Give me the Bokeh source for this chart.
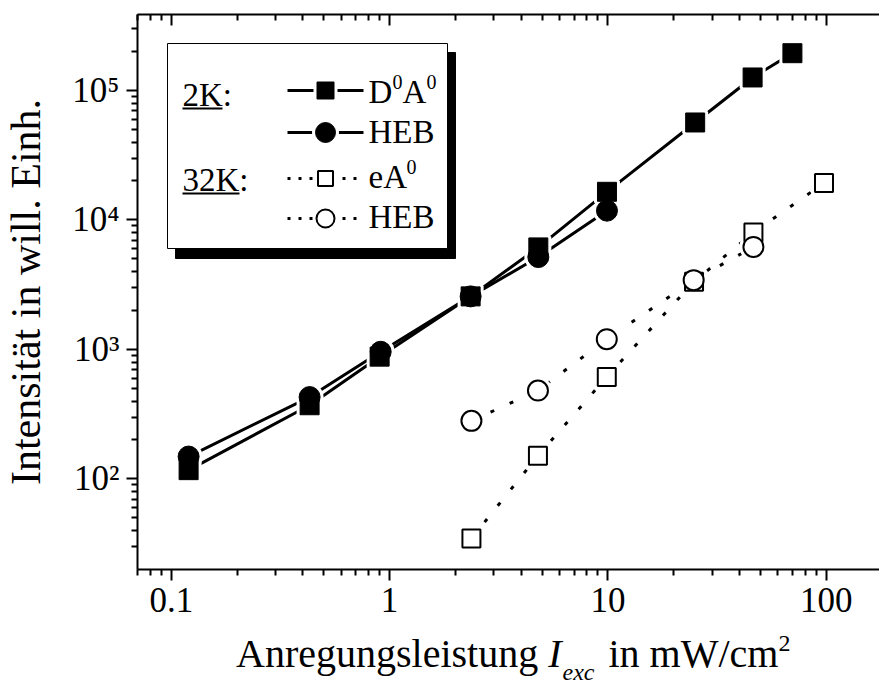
import math
from bokeh.plotting import figure
from bokeh.models import LogAxis, FixedTicker, Range1d, Div
from bokeh.layouts import column
from bokeh.core.properties import value
from bokeh.embed import file_html
from bokeh.resources import INLINE

# ---------------- data ----------------
x_2k_d0a0 = [0.12, 0.43, 0.90, 2.35, 4.8, 9.9, 25.1, 46.0, 70.0]
y_2k_d0a0 = [117, 371, 880, 2570, 6140, 16500, 56600, 126000, 194000]
x_2k_heb = [0.12, 0.43, 0.91, 2.35, 4.8, 9.9]
y_2k_heb = [149, 429, 960, 2570, 5170, 11800]
x_32k_ea0 = [2.37, 4.78, 9.88, 24.8, 46.4, 97.7]
y_32k_ea0 = [34.7, 151, 614, 3340, 8000, 19300]
x_32k_heb = [2.37, 4.78, 9.88, 24.7, 46.4]
y_32k_heb = [281, 482, 1200, 3430, 6190]

x_ticks = [0.1, 1, 10, 100]
x_tick_labels = ["0.1", "1", "10", "100"]
x_minor = [0.07, 0.08, 0.09, 0.2, 0.3, 0.4, 0.5, 0.6, 0.7, 0.8, 0.9,
           2, 3, 4, 5, 6, 7, 8, 9, 20, 30, 40, 50, 60, 70, 80, 90]
y_ticks = [1e2, 1e3, 1e4, 1e5]
y_tick_labels = ["10²", "10³", "10⁴", "10⁵"]
y_minor = [30, 40, 50, 60, 70, 80, 90, 200, 300, 400, 500, 600, 700, 800, 900,
           2000, 3000, 4000, 5000, 6000, 7000, 8000, 9000,
           20000, 30000, 40000, 50000, 60000, 70000, 80000, 90000, 200000, 300000]

y_label = "Intensität in will. Einh."
x_label_parts = ["Anregungsleistung ", "I", "exc", " in mW/cm", "2"]

# ---------------- layout ----------------
W, H = 879, 640          # figure size (a text strip of 49 px follows below)
DIV_H = 49
BL, BR, BT, BB = 137, 0, 14, 71
X0, X1 = 0.07, 175.4
Y0, Y1 = 20.0, 3.86e5
FONT = "Liberation Serif"


def dx(px):
    f = (px - BL) / (W - BL - BR)
    return 10 ** (math.log10(X0) + f * (math.log10(X1) - math.log10(X0)))


def dy(py):
    f = (H - BB - py) / (H - BB - BT)
    return 10 ** (math.log10(Y0) + f * (math.log10(Y1) - math.log10(Y0)))


p = figure(width=W, height=H, x_axis_type="log", y_axis_type="log",
           x_range=Range1d(X0, X1), y_range=Range1d(Y0, Y1),
           output_backend="svg", toolbar_location=None, title_location=None,
           min_border_left=BL, min_border_right=BR, min_border_top=BT,
           min_border_bottom=BB)
p.outline_line_color = None
p.grid.visible = False
p.background_fill_color = "white"
p.border_fill_color = "white"

xt = FixedTicker(ticks=x_ticks, minor_ticks=x_minor)
yt = FixedTicker(ticks=y_ticks, minor_ticks=y_minor)

for ax in (p.xaxis[0], p.yaxis[0]):
    ax.axis_line_width = 2
    ax.major_tick_line_width = 2
    ax.minor_tick_line_width = 2
    ax.major_tick_out = 11
    ax.major_tick_in = 0
    ax.minor_tick_out = 6
    ax.minor_tick_in = 0
    ax.major_label_text_font = FONT
    ax.major_label_text_font_size = "35px"
    ax.major_label_text_color = "black"
    ax.major_label_standoff = 7

p.xaxis[0].ticker = xt
p.xaxis[0].major_label_overrides = dict(zip(x_ticks, x_tick_labels))
p.yaxis[0].ticker = yt
p.yaxis[0].major_label_overrides = dict(zip(y_ticks, y_tick_labels))

p.yaxis[0].axis_label = y_label
p.yaxis[0].axis_label_text_font = FONT
p.yaxis[0].axis_label_text_font_size = "42px"
p.yaxis[0].axis_label_text_font_style = "normal"
p.yaxis[0].axis_label_text_color = "black"
p.yaxis[0].axis_label_standoff = 20

top = LogAxis(ticker=FixedTicker(ticks=x_ticks, minor_ticks=x_minor))
top.axis_line_width = 2
top.major_tick_line_width = 2
top.minor_tick_line_width = 2
top.major_tick_in = 11
top.major_tick_out = 0
top.minor_tick_in = 6
top.minor_tick_out = 0
top.major_label_text_font_size = "0px"
top.major_label_standoff = 0
top.major_label_overrides = {t: "" for t in x_ticks}
p.add_layout(top, "above")

# ---------------- data lines ----------------
p.line(x_2k_d0a0, y_2k_d0a0, line_color="black", line_width=3)
p.line(x_2k_heb, y_2k_heb, line_color="black", line_width=3)
p.line(x_32k_ea0, y_32k_ea0, line_color="black", line_width=3, line_dash="4 17")
p.line(x_32k_heb, y_32k_heb, line_color="black", line_width=3, line_dash="4 17")

# white halos (gaps between line and symbols)
for xs, ys, mk, sz in ((x_2k_d0a0, y_2k_d0a0, "square", 19),
                       (x_2k_heb, y_2k_heb, "circle", 21),
                       (x_32k_ea0, y_32k_ea0, "square", 19),
                       (x_32k_heb, y_32k_heb, "circle", 21)):
    p.scatter(xs, ys, marker=mk, size=sz + 2, fill_color="white",
              line_color="white", line_width=5)

p.scatter(x_2k_d0a0, y_2k_d0a0, marker="square", size=19,
          fill_color="black", line_color="black")
p.scatter(x_2k_heb, y_2k_heb, marker="circle", size=21,
          fill_color="black", line_color="black")
p.scatter(x_32k_ea0, y_32k_ea0, marker="square", size=18,
          fill_color="white", line_color="black", line_width=2)
p.scatter(x_32k_heb, y_32k_heb, marker="circle", size=20,
          fill_color="white", line_color="black", line_width=2)

# ---------------- legend box ----------------
p.quad(left=[dx(175)], right=[dx(455)], top=[dy(52)], bottom=[dy(258)],
       fill_color="black", line_color="black")
p.quad(left=[dx(167)], right=[dx(447)], top=[dy(43)], bottom=[dy(248)],
       fill_color="white", line_color="black", line_width=1)


def txt(px, py_mid, s, size="33px"):
    p.text(x=[dx(px)], y=[dy(py_mid)], text=[s], text_font=value(FONT),
           text_font_size=size, text_align="left", text_baseline="middle",
           text_color="black")


txt(182, 94, "2K:")
p.segment(x0=[dx(182)], x1=[dx(222)], y0=[dy(108)], y1=[dy(108)],
          line_color="black", line_width=2)
txt(182, 179, "32K:")
p.segment(x0=[dx(182)], x1=[dx(239)], y0=[dy(193)], y1=[dy(193)],
          line_color="black", line_width=2)

rows = [(90, "square", 17, "black", None), (132, "circle", 20, "black", None),
        (178, "square", 15, "white", "3 8"), (218, "circle", 18, "white", "3 8")]
for ry, mk, sz, fc, dash in rows:
    if dash is None:
        p.line([dx(287), dx(363)], [dy(ry), dy(ry)], line_color="black", line_width=3)
    else:
        p.line([dx(287), dx(363)], [dy(ry), dy(ry)], line_color="black",
               line_width=3, line_dash=dash)
    p.scatter([dx(325)], [dy(ry)], marker=mk, size=sz + 2, fill_color="white",
              line_color="white", line_width=5)
    p.scatter([dx(325)], [dy(ry)], marker=mk, size=sz, fill_color=fc,
              line_color="black", line_width=2 if fc == "white" else 1)

txt(368, 91, "D")
txt(392, 81, "0", "20px")
txt(402, 91, "A")
txt(426, 81, "0", "20px")
txt(368, 131, "HEB")
txt(368, 176, "eA")
txt(406, 166, "0", "20px")
txt(368, 216, "HEB")

# ---------------- x-axis label (composed, real text) ----------------
a, b, c, d, e = x_label_parts
html = (
    f'<div style="position:relative;width:{W}px;height:{DIV_H}px;'
    f'font-family:\'{FONT}\';color:black;">'
    f'<span style="position:absolute;left:236px;top:-6px;font-size:40px;'
    f'line-height:40px;white-space:nowrap;">{a}<i>{b}</i>'
    f'<span style="font-size:24px;font-style:italic;position:relative;top:13px;'
    f'margin-left:1px;margin-right:4px;">{c}</span>'
    f'{d}<span style="font-size:24px;position:relative;top:-16px;">{e}</span>'
    f'</span></div>'
)
div = Div(text=html, width=W, height=DIV_H, margin=(0, 0, 0, 0))

layout = column(p, div, spacing=0)
open("out.html", "w").write(file_html(layout, INLINE))
